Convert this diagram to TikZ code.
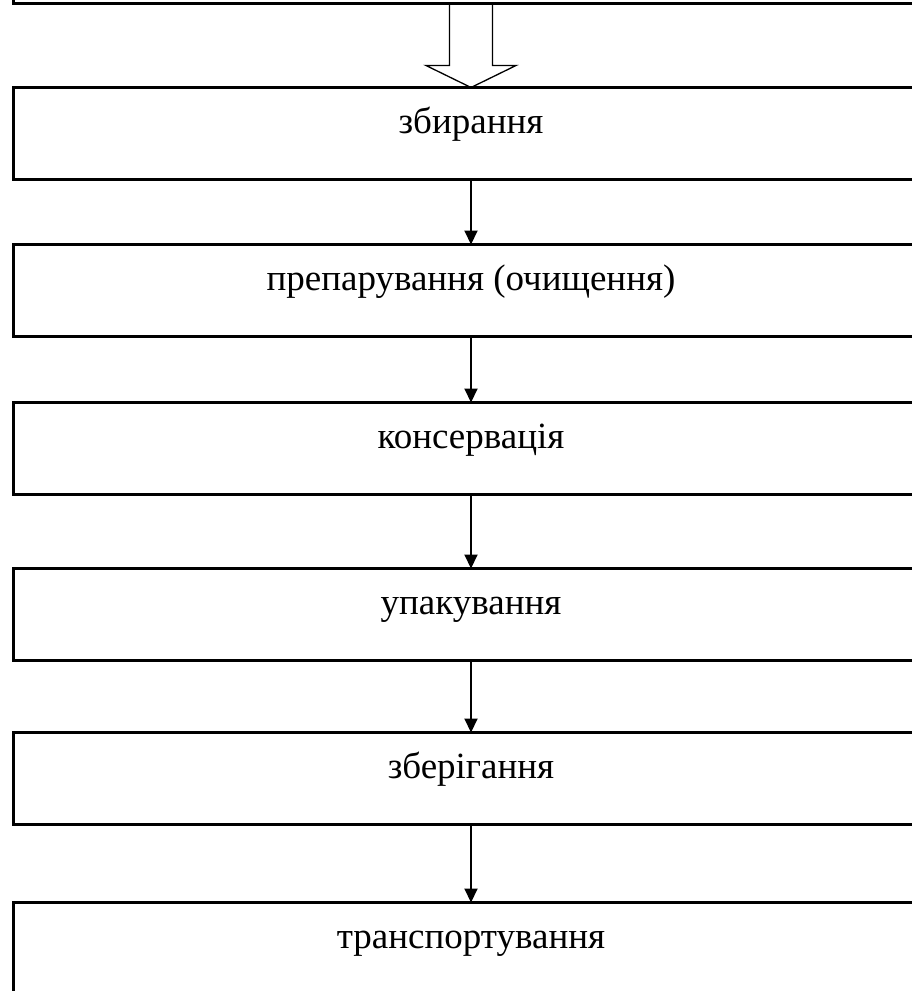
\documentclass[tikz,border=0pt]{standalone}
\usepackage{fontspec}
\setmainfont{Liberation Serif}
\usetikzlibrary{arrows.meta, positioning, calc}

\begin{document}
\begin{tikzpicture}[
    x=1pt, y=1pt,
    stage/.style={rectangle, draw=black, line width=3pt, minimum width=916pt, minimum height=92pt, outer sep=0pt, text height=20pt, text depth=20pt, text centered, font=\fontsize{37}{44}\selectfont},
    arrow/.style={line width=2pt, -{Triangle[width=13pt,length=14pt]}},
    hollow/.style={line width=1.3pt}
]
\useasboundingbox (0,0) rectangle (912,-991);
\clip (0,0) rectangle (912,-991);

% Previous stage, only its lower edge is visible
\node[stage, anchor=south] (prev) at (471,-3) {};

% Stages
\node[stage] (collect) at (471,-133.5) {збирання};
\node[stage, below=65pt of collect] (prepare) {препарування (очищення)};
\node[stage, below=66pt of prepare] (preserve) {консервація};
\node[stage, below=74pt of preserve] (pack) {упакування};
\node[stage, below=72pt of pack] (store) {зберігання};
\node[stage, below=78pt of store] (transport) {транспортування};

% Hollow arrow into the first stage
\draw[hollow] ($(prev.south)+(-21.5,0)$) -- ($(collect.north)+(-21.5,22)$)
    -- ($(collect.north)+(-45,22)$) -- (collect.north)
    -- ($(collect.north)+(45,22)$) -- ($(collect.north)+(21.5,22)$)
    -- ($(prev.south)+(21.5,0)$);

% Arrows
\draw[arrow] (collect) -- (prepare);
\draw[arrow] (prepare) -- (preserve);
\draw[arrow] (preserve) -- (pack);
\draw[arrow] (pack) -- (store);
\draw[arrow] (store) -- (transport);

\end{tikzpicture}
\end{document}
